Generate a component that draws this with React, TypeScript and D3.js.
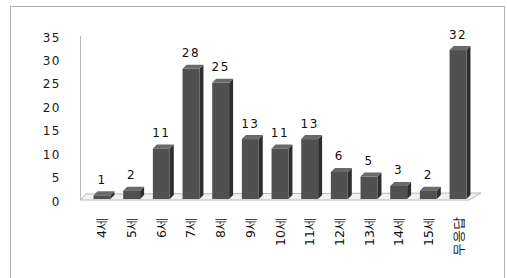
import { useEffect, useRef } from 'react';
import * as d3 from 'd3';

const categories = ['4세', '5세', '6세', '7세', '8세', '9세', '10세', '11세', '12세', '13세', '14세', '15세', '무응답'];
const values = [1, 2, 11, 28, 25, 13, 11, 13, 6, 5, 3, 2, 32];
const yTicks = [0, 5, 10, 15, 20, 25, 30, 35];

const App = () => {
  const svgRef = useRef(null);

  useEffect(() => {
    const svg = d3.select(svgRef.current);
    svg.selectAll('*').remove();
    const font = "'DejaVu Sans', Verdana, sans-serif";

    // outer frame
    svg.append('rect')
      .attr('x', 10.5).attr('y', 6.5)
      .attr('width', 494).attr('height', 290)
      .attr('fill', '#fff').attr('stroke', '#b0b0b0');

    const x = d3.scaleBand()
      .domain(categories)
      .range([87, 473])
      .paddingInner(0.43)
      .paddingOuter(0.22);
    const y = d3.scaleLinear().domain([0, 35]).range([200, 36]);
    const depth = 4;

    // y axis line
    svg.append('line')
      .attr('x1', 80.5).attr('x2', 80.5)
      .attr('y1', y(35)).attr('y2', y(0))
      .attr('stroke', '#b8b8b8');

    // floor
    svg.append('path')
      .attr('d', `M80.5,${y(0)} L86,${y(0) - 6} L481,${y(0) - 7} L469,${y(0)} Z`)
      .attr('fill', '#f2f2f2').attr('stroke', '#b8b8b8');

    // tick labels
    svg.append('g').selectAll('text')
      .data(yTicks)
      .enter()
      .append('text')
      .attr('x', 61)
      .attr('y', d => y(d) + 2)
      .attr('text-anchor', 'end')
      .attr('dominant-baseline', 'middle')
      .attr('font-family', font)
      .attr('font-size', 12)
      .attr('letter-spacing', 1.5)
      .attr('fill', '#1a1a1a')
      .text(d => d);

    const base = y(0) - 1;
    const bars = svg.append('g').selectAll('g')
      .data(values)
      .enter()
      .append('g');

    // side face
    bars.append('path')
      .attr('d', (d, i) => {
        const x1 = x(categories[i]) + x.bandwidth();
        const top = y(d);
        return `M${x1},${base} L${x1},${top} L${x1 + depth},${top - depth} L${x1 + depth},${base - depth} Z`;
      })
      .attr('fill', '#2e2e2e');

    // top face
    bars.append('path')
      .attr('d', (d, i) => {
        const x0 = x(categories[i]);
        const x1 = x0 + x.bandwidth();
        const top = y(d);
        return `M${x0},${top} L${x0 + depth},${top - depth} L${x1 + depth},${top - depth} L${x1},${top} Z`;
      })
      .attr('fill', '#6a6a6a');

    // front face
    bars.append('rect')
      .attr('x', (d, i) => x(categories[i]))
      .attr('y', d => y(d))
      .attr('width', x.bandwidth())
      .attr('height', d => base - y(d))
      .attr('fill', '#505050');

    // value labels
    bars.append('text')
      .attr('x', (d, i) => x(categories[i]) + x.bandwidth() / 2)
      .attr('y', d => y(d) - 15)
      .attr('text-anchor', 'middle')
      .attr('dominant-baseline', 'middle')
      .attr('font-family', font)
      .attr('font-size', 12)
      .attr('letter-spacing', 1.5)
      .attr('fill', '#111')
      .text(d => d);

    // category labels
    svg.append('g').selectAll('text')
      .data(categories)
      .enter()
      .append('text')
      .attr('transform', d => `translate(${x(d) + x.bandwidth() / 2 + 1},217) rotate(-90)`)
      .attr('text-anchor', 'end')
      .attr('dominant-baseline', 'middle')
      .attr('font-family', font)
      .attr('font-size', 12.5)
      .attr('fill', '#111')
      .text(d => d);
  }, []);

  return (
    <svg ref={svgRef} width={507} height={278}
      style={{ position: 'absolute', left: 0, top: 0 }} />
  );
};

export default App;
